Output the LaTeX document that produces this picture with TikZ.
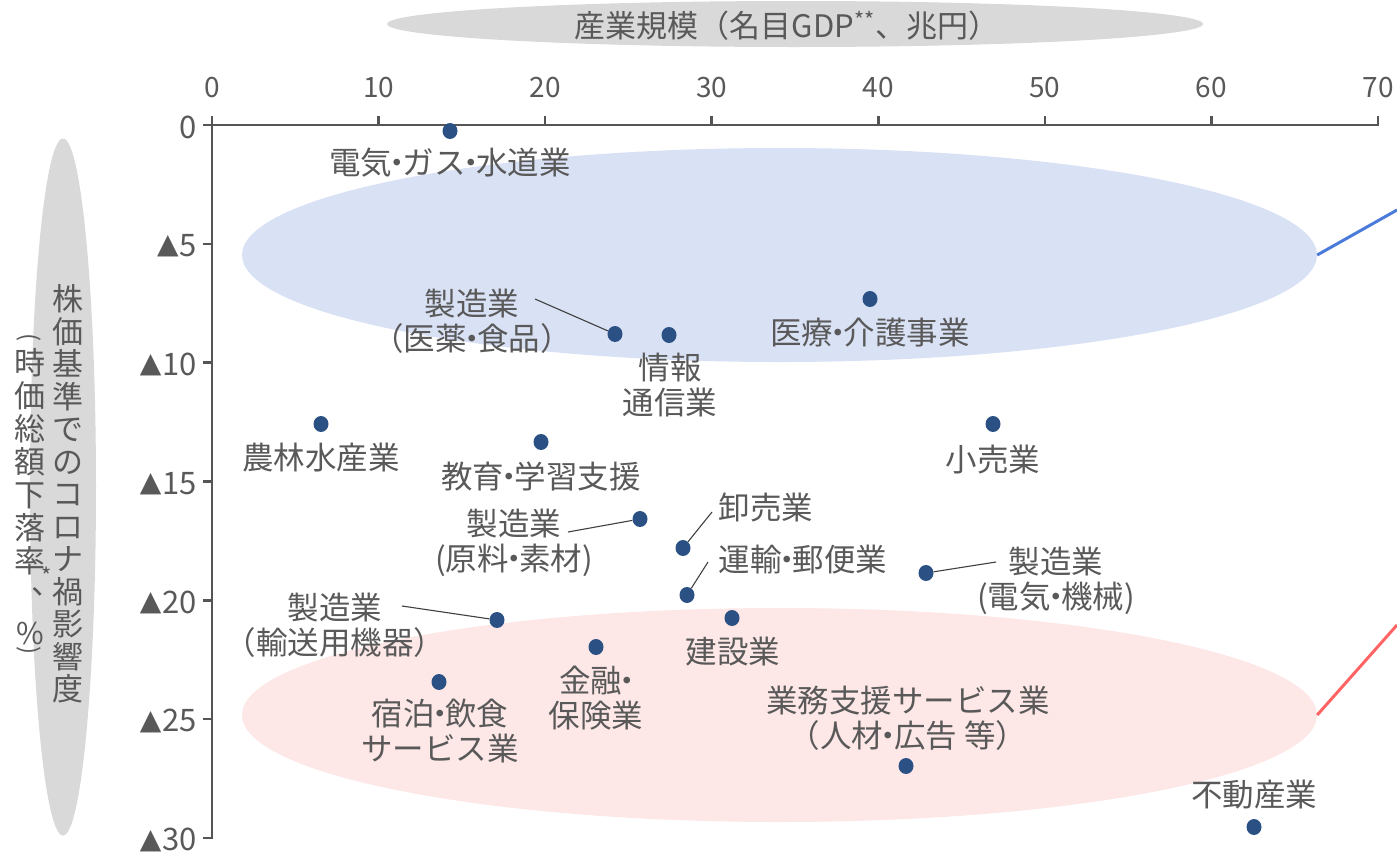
\documentclass[tikz,border=0pt]{standalone}
\usepackage{fontspec}
\setmainfont{Noto Sans CJK JP}
\newfontfamily\symfont{DejaVu Sans}
\usetikzlibrary{shapes.geometric}
\definecolor{tc}{HTML}{595959}
\definecolor{axc}{HTML}{555555}
\definecolor{dotc}{HTML}{2B5184}
\definecolor{leadc}{HTML}{404040}
\definecolor{bluefill}{HTML}{D9E1F5}
\definecolor{pinkfill}{HTML}{FDE7E7}
\definecolor{grayfill}{HTML}{D9D9D9}
\definecolor{blueline}{HTML}{4A7BDA}
\definecolor{redline}{HTML}{FF6464}
\newcommand\nk{\kern-.33em・\kern-.33em}
\newcommand\tri{\raisebox{2.5pt}{\symfont\fontsize{28}{28}\selectfont ▲}\kern1pt}
\begin{document}
\begin{tikzpicture}[x=1pt,y=-1pt,
  txt/.style={text=tc, font=\fontsize{31.5}{35}\selectfont, inner sep=0pt, align=center},
  ticklbl/.style={text=tc, font=\fontsize{28}{30}\selectfont, inner sep=0pt},
  yticklbl/.style={text=tc, font=\fontsize{31}{32}\selectfont, inner sep=0pt, anchor=east},
  vtxt/.style={text=tc, font=\fontsize{31}{33}\selectfont, inner sep=0pt, align=center},
  dot/.style={ellipse, fill=dotc, minimum width=15pt, minimum height=16pt, inner sep=0pt},
  lead/.style={draw=leadc, line width=1.1pt},
  axis/.style={draw=axc, line width=2.5pt},
  bg/.style={ellipse, inner sep=0pt, draw=none}]
\useasboundingbox (0,0) rectangle (1397,852);

% background ellipses
\node[bg, fill=grayfill, minimum width=816pt, minimum height=46pt] (xtitleE) at (795,24) {};
\node[bg, fill=grayfill, minimum width=66pt, minimum height=697pt] (ytitleE) at (63,487) {};
\node[bg, fill=bluefill, minimum width=1075pt, minimum height=214pt] (blueE) at (779.5,255) {};
\node[bg, fill=pinkfill, minimum width=1075pt, minimum height=214pt] (pinkE) at (779.5,715) {};
\coordinate (blueEnd) at (1397,210);
\coordinate (redEnd) at (1397,625);
\draw[blueline, line width=3pt] (blueE.east) -- (blueEnd);
\draw[redline, line width=3pt] (pinkE.east) -- (redEnd);

% titles
\node[txt, font=\fontsize{31}{35}\selectfont] (xtitle) at (787,26) {産業規模（名目GDP\textsuperscript{**}、兆円）};
\node[vtxt, font=\fontsize{31}{32.5}\selectfont] (ytitle1) at (68,494) {株\\価\\基\\準\\で\\の\\コ\\ロ\\ナ\\禍\\影\\響\\度};
\node[vtxt] (ytitle2) at (30,462) {時\\価\\総\\額\\下\\落\\率};
\node[text=tc, inner sep=0pt, font=\fontsize{22}{22}\selectfont] (ast) at (47,576) {*};
\node[text=tc, inner sep=0pt, font=\fontsize{31}{31}\selectfont, anchor=base west] (comma) at (31,594) {、};
\node[text=tc, inner sep=0pt, font=\fontsize{30}{30}\selectfont] (pct) at (30,633) {\%};
\node[text=tc, inner sep=0pt, font=\fontsize{24}{24}\selectfont] (popen) at (29,339) {\rotatebox[origin=c]{-90}{(}};
\node[text=tc, inner sep=0pt, font=\fontsize{24}{24}\selectfont] (pclose) at (29,652) {\rotatebox[origin=c]{-90}{)}};

% axes
\coordinate (O) at (212,125);
\coordinate (XE) at (1378,125);
\coordinate (YE) at (212,838);
\draw[axis] (XE) -- (O) -- (YE);
\foreach \i in {0,...,7} {
  \draw[axis] (212+\i*166.57,126) -- ++(0,-10);
  \pgfmathtruncatemacro\v{\i*10}
  \node[ticklbl] (xl\i) at (212+\i*166.57,88) {\v};
}
\draw[axis] (212,126) -- (212,116);
\foreach \j in {0,...,6} {
  \draw[axis] (213,125+\j*118.83) -- ++(-10,0);
}
\node[yticklbl] (yl0) at (197,127) {0};
\foreach \j in {1,...,6} {
  \pgfmathtruncatemacro\v{\j*5}
  \node[yticklbl] (yl\j) at (197,127+\j*118.83) {\tri\v};
}

% data points
\node[dot] (p1) at (450,131) {};
\node[dot] (p2) at (615,334) {};
\node[dot] (p3) at (669,335) {};
\node[dot] (p4) at (870,299) {};
\node[dot] (p5) at (321,424) {};
\node[dot] (p6) at (541,442) {};
\node[dot] (p7) at (993,424) {};
\node[dot] (p8) at (640,519) {};
\node[dot] (p9) at (683,548) {};
\node[dot] (p10) at (687,595) {};
\node[dot] (p11) at (926,573) {};
\node[dot] (p12) at (497,620) {};
\node[dot] (p13) at (732,618) {};
\node[dot] (p14) at (596,647) {};
\node[dot] (p15) at (439,682) {};
\node[dot] (p16) at (906,766) {};
\node[dot] (p17) at (1254,827) {};

% labels
\node[txt] (l1) at (450,163) {電気\nk ガス\nk 水道業};
\node[txt] (l2) at (472,321) {製造業\\（医薬\nk 食品）};
\node[txt] (l3) at (670,385) {情報\\通信業};
\node[txt] (l4) at (870,333) {医療\nk 介護事業};
\node[txt] (l5) at (321,458) {農林水産業};
\node[txt] (l6) at (541,476) {教育\nk 学習支援};
\node[txt] (l7) at (993,460) {小売業};
\node[txt] (l8) at (514,543) {製造業\\(原料\nk 素材)};
\node[txt] (l9) at (766,507) {卸売業};
\node[txt] (l10) at (803,560) {運輸\nk 郵便業};
\node[txt] (l11) at (1056,581) {製造業\\(電気\nk 機械)};
\node[txt] (l12) at (335,625) {製造業\\（輸送用機器）};
\node[txt] (l13) at (733,652) {建設業};
\node[txt] (l14) at (596,698) {金融\nk\\保険業};
\node[txt] (l15) at (440,731) {宿泊\nk 飲食\\サービス業};
\node[txt] (l16) at (908,718) {業務支援サービス業\\（人材\nk 広告 等）};
\node[txt] (l17) at (1254,795) {不動産業};

% leader lines
\coordinate (c2) at (535,299);
\coordinate (c8) at (568,532);
\coordinate (c9) at (712,512);
\coordinate (c10) at (708,562);
\coordinate (c11) at (996,562);
\coordinate (c12) at (402,606);
\draw[lead] (c2) -- (p2);
\draw[lead] (c8) -- (p8);
\draw[lead] (c9) -- (p9);
\draw[lead] (c10) -- (p10);
\draw[lead] (c11) -- (p11);
\draw[lead] (c12) -- (p12);
\end{tikzpicture}
\end{document}
